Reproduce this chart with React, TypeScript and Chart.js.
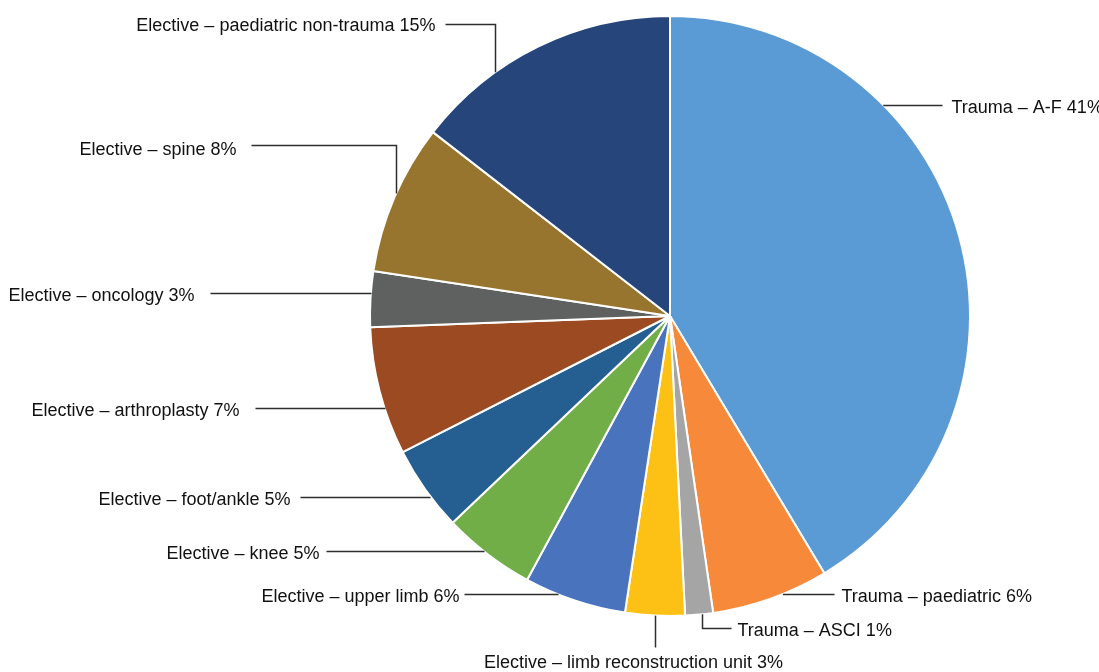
import React, { useEffect, useRef } from "react";
import { Chart, registerables } from "chart.js";

Chart.register(...registerables);

const CATEGORIES = [
  "Trauma – A-F",
  "Trauma – paediatric",
  "Trauma – ASCI",
  "Elective – limb reconstruction unit",
  "Elective – upper limb",
  "Elective – knee",
  "Elective – foot/ankle",
  "Elective – arthroplasty",
  "Elective – oncology",
  "Elective – spine",
  "Elective – paediatric non-trauma",
];

// share of each slice
const VALUES = [41.4, 6.3, 1.5, 3.2, 5.5, 5.0, 4.6, 6.9, 3.0, 8.1, 14.5];

// rounded percentages shown in the labels
const PCT_LABELS = [41, 6, 1, 3, 6, 5, 5, 7, 3, 8, 15];

const COLORS = [
  "#5B9BD5",
  "#F6893A",
  "#A5A5A5",
  "#FDC014",
  "#4A73BE",
  "#72AE48",
  "#255E91",
  "#9C4A22",
  "#5F6160",
  "#98752E",
  "#26457A",
];

// leader-line layout: where on the slice the line touches (fraction of the slice angle),
// vertical segment, horizontal segment, gap to the text, text offsets
const LABEL_LAYOUT = [
  { frac: 0.304, rise: 0, run: 59, gap: 9, textDx: 0, textDy: 3 },
  { frac: 0.39, rise: 0, run: 51, gap: 7, textDx: 0, textDy: 3 },
  { frac: 0.4, rise: 14, run: 29, gap: 6, textDx: 0, textDy: 3 },
  { frac: 0.5, rise: 31, run: 0, gap: 16, textDx: -22, textDy: 0 },
  { frac: 0.674, rise: 0, run: -94, gap: 5, textDx: 0, textDy: 3 },
  { frac: 0.553, rise: 0, run: -158, gap: 7, textDx: 0, textDy: 3 },
  { frac: 0.396, rise: 0, run: -130, gap: 10, textDx: 0, textDy: 3 },
  { frac: 0.364, rise: 0, run: -130, gap: 16, textDx: 0, textDy: 3 },
  { frac: 0.608, rise: 0, run: -161, gap: 16, textDx: 0, textDy: 3 },
  { frac: 0.53, rise: -49, run: -145, gap: 15, textDx: 0, textDy: 5 },
  { frac: 0.317, rise: -48, run: -50, gap: 10, textDx: 0, textDy: 2 },
];

const FONT = '18px "Liberation Sans", Arial, sans-serif';

const leaderPlugin = {
  id: "leaderLabels",
  afterDraw(chart: any) {
    const ctx = chart.ctx;
    const meta = chart.getDatasetMeta(0);
    ctx.save();
    ctx.font = FONT;
    meta.data.forEach((arc: any, i: number) => {
      const lay = LABEL_LAYOUT[i];
      if (!lay) return;
      const { x, y, startAngle, endAngle, outerRadius } = arc.getProps(
        ["x", "y", "startAngle", "endAngle", "outerRadius"],
        true
      );
      const a = startAngle + lay.frac * (endAngle - startAngle);
      const px = x + outerRadius * Math.cos(a);
      const py = y + outerRadius * Math.sin(a);
      const sx = Math.round(px) + 0.5;
      const sy = Math.round(py) + 0.5;
      const ey = sy + lay.rise;
      const ex = sx + lay.run;
      ctx.strokeStyle = "#2e2e2e";
      ctx.lineWidth = 1.5;
      ctx.beginPath();
      ctx.moveTo(lay.rise !== 0 ? sx : px, lay.rise !== 0 ? py : sy);
      ctx.lineTo(sx, ey);
      ctx.lineTo(ex, ey);
      ctx.stroke();

      const text = `${CATEGORIES[i]} ${PCT_LABELS[i]}%`;
      ctx.fillStyle = "#111111";
      ctx.textBaseline = "middle";
      if (lay.run > 0) {
        ctx.textAlign = "left";
        ctx.fillText(text, ex + lay.gap + lay.textDx, ey + lay.textDy);
      } else if (lay.run < 0) {
        ctx.textAlign = "right";
        ctx.fillText(text, ex - lay.gap + lay.textDx, ey + lay.textDy);
      } else {
        ctx.textAlign = "center";
        ctx.fillText(text, ex + lay.textDx, ey + lay.gap + lay.textDy);
      }
    });
    ctx.restore();
  },
};

export default function App() {
  const canvasRef = useRef<HTMLCanvasElement | null>(null);

  useEffect(() => {
    document.body.style.margin = "0";
    const canvas = canvasRef.current;
    if (!canvas) return;
    const chart = new Chart(canvas, {
      type: "pie",
      data: {
        labels: CATEGORIES,
        datasets: [
          {
            data: VALUES,
            backgroundColor: COLORS,
            borderColor: "#ffffff",
            borderWidth: 2,
          },
        ],
      },
      options: {
        responsive: false,
        animation: false,
        layout: { padding: { left: 369, right: 128, top: 15, bottom: 55 } },
        plugins: {
          legend: { display: false },
          tooltip: { enabled: false },
        },
        events: [],
      },
      plugins: [leaderPlugin],
    });
    return () => chart.destroy();
  }, []);

  return (
    <div style={{ position: "absolute", left: 0, top: 0, width: 1099, height: 672, background: "#fff" }}>
      <canvas ref={canvasRef} width={1099} height={672} style={{ display: "block" }} />
    </div>
  );
}
